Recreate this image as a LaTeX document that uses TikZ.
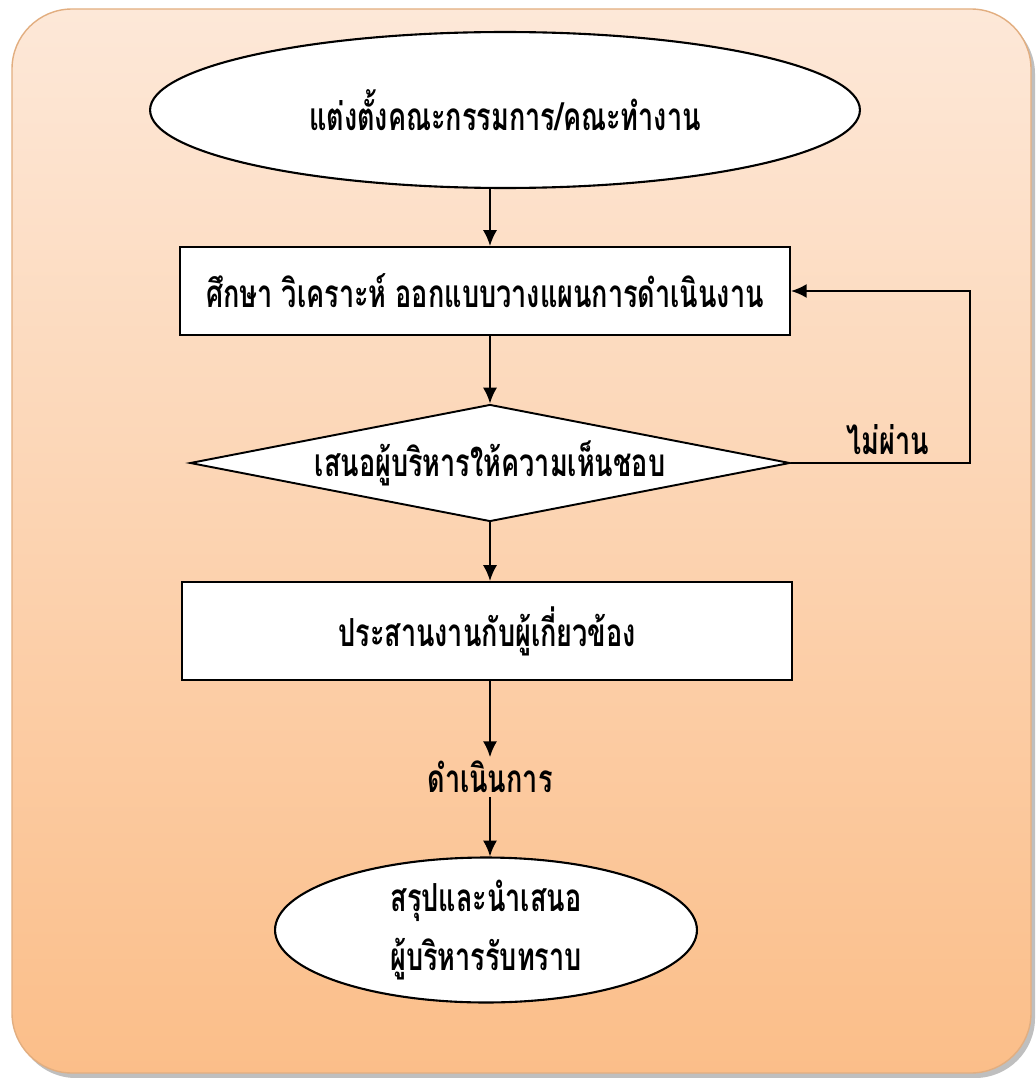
\documentclass[tikz,border=0pt]{standalone}
\usepackage{fontspec}
\newfontfamily\thaifont[Script=Thai,FakeStretch=0.7]{Loma}
\usetikzlibrary{shapes.geometric,arrows.meta,shadows}
\definecolor{bgtop}{HTML}{FDE8D8}
\definecolor{bgbot}{HTML}{FBBE89}
\definecolor{bgedge}{HTML}{E2AE80}
\tikzset{
  txt/.style={font=\thaifont\bfseries\fontsize{22}{34}\selectfont, text=black, align=center},
  oval/.style={ellipse, draw=black, line width=1.2pt, fill=white, txt},
  box/.style={rectangle, draw=black, line width=1.1pt, fill=white, txt},
  dia/.style={diamond, draw=black, line width=1.1pt, fill=white, txt, inner sep=0pt, shape aspect=5.1},
  arr/.style={draw=black, line width=1.2pt, -{Latex[length=9pt,width=8pt]}},
  lin/.style={draw=black, line width=1.2pt}
}
\begin{document}
\begin{tikzpicture}[x=0.02cm,y=-0.02cm]
\useasboundingbox (0,0) rectangle (1035,1078);
\fill[black!25, rounded corners=1.2cm] (16,14) rectangle (1035,1078);
\shade[top color=bgtop, bottom color=bgbot, draw=bgedge, line width=0.8pt, rounded corners=1.2cm] (12,9) rectangle (1031,1073);
\coordinate (ax) at (490,0);
\node[oval, minimum width=14.2cm, minimum height=3.12cm] (top) at (505,110) {แต่งตั้งคณะกรรมการ/คณะทำงาน};
\node[box, minimum width=12.2cm, minimum height=1.76cm] (r1) at (485,291) {ศึกษา วิเคราะห์ ออกแบบวางแผนการดำเนินงาน};
\node[dia, minimum width=12cm, minimum height=2.34cm] (d) at (490,463) {เสนอผู้บริหารให้ความเห็นชอบ};
\node[box, minimum width=12.2cm, minimum height=1.96cm] (r2) at (487,631) {ประสานงานกับผู้เกี่ยวข้อง};
\node[txt, inner sep=2pt] (op) at (490,777) {ดำเนินการ};
\node[oval, minimum width=8.44cm, minimum height=2.9cm, inner sep=0pt] (end) at (486,930) {สรุปและนำเสนอ\\ผู้บริหารรับทราบ};
\node[txt, inner sep=0pt] (no) at (888,440) {ไม่ผ่าน};
\draw[arr] (top.south -| ax) -- (r1.north -| ax);
\draw[arr] (r1.south -| ax) -- (d.north -| ax);
\draw[arr] (d.south -| ax) -- (r2.north -| ax);
\draw[arr] (r2.south -| ax) -- (op.north -| ax);
\draw[arr] (op.south -| ax) -- (end.north -| ax);
\coordinate (fb) at (970,0);
\draw[arr] (d.east) -- (d.east -| fb) -- (r1.east -| fb) -- (r1.east);
\end{tikzpicture}
\end{document}
